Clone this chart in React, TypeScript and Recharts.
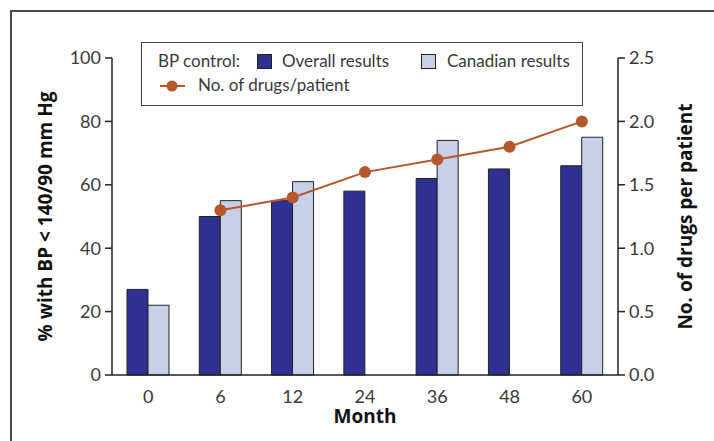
import {
  Bar,
  ComposedChart,
  Legend,
  Line,
  XAxis,
  YAxis,
} from 'recharts';

const MONTHS = ['0', '6', '12', '24', '36', '48', '60'];
const OVERALL = [27, 50, 55, 58, 62, 65, 66];
const CANADIAN = [22, 55, 61, null, 74, null, 75];
const DRUGS = [null, 1.3, 1.4, 1.6, 1.7, 1.8, 2.0];

const LEFT_TICKS = [0, 20, 40, 60, 80, 100];
const RIGHT_TICKS = [0, 0.5, 1.0, 1.5, 2.0, 2.5];

const DARK = '#2e3192';
const LIGHT = '#c8d0e8';
const BROWN = '#b5582b';
const TEXT = '#3a3a3a';

const data = MONTHS.map((month, i) => ({
  month,
  overall: OVERALL[i],
  canadian: CANADIAN[i],
  drugs: DRUGS[i],
}));

const tickStyle = { fill: TEXT, fontSize: 18, fontFamily: 'Lato' };
const titleStyle = {
  fill: '#111',
  fontSize: 19,
  fontWeight: 700,
  fontFamily: 'Open Sans',
};

function LegendBox() {
  const txt = (left: number, top: number, s: string) => (
    <span
      style={{
        position: 'absolute',
        left,
        top,
        lineHeight: '20px',
        whiteSpace: 'nowrap',
      }}
    >
      {s}
    </span>
  );
  const square = (left: number, fill: string) => (
    <span
      style={{
        position: 'absolute',
        left,
        top: 11,
        width: 15,
        height: 15,
        boxSizing: 'border-box',
        background: fill,
        border: '1.5px solid #222',
      }}
    />
  );
  return (
    <div
      style={{
        position: 'relative',
        width: 442,
        height: 64,
        boxSizing: 'border-box',
        border: '1.5px solid #444',
        background: '#fff',
        fontFamily: 'Lato',
        fontSize: 17,
        color: TEXT,
      }}
    >
      {txt(16, 8, 'BP control:')}
      {square(115, DARK)}
      {txt(140, 8, 'Overall results')}
      {square(279, LIGHT)}
      {txt(305, 8, 'Canadian results')}
      <svg
        style={{ position: 'absolute', left: 17, top: 33 }}
        width={28}
        height={20}
      >
        <line x1={1} y1={10} x2={26} y2={10} stroke={BROWN} strokeWidth={2} />
        <circle cx={13} cy={10} r={5.5} fill={BROWN} />
      </svg>
      {txt(56, 32, 'No. of drugs/patient')}
    </div>
  );
}

export default function App() {
  return (
    <div
      style={{
        position: 'relative',
        width: 714,
        height: 441,
        background: '#fff',
        overflow: 'hidden',
      }}
    >
      <style>{'body{margin:0}'}</style>
      <div
        style={{
          position: 'absolute',
          left: 10,
          top: 10,
          right: -4,
          bottom: -4,
          borderTop: '2px solid #4a4a4a',
          borderLeft: '2px solid #4a4a4a',
        }}
      />
      <ComposedChart
        width={714}
        height={441}
        data={data}
        margin={{ top: 58, right: 36, bottom: 36, left: 52 }}
        barGap={0}
      >
        <XAxis
          dataKey="month"
          tick={tickStyle}
          tickLine={false}
          tickMargin={9}
          height={30}
          axisLine={{ stroke: '#222', strokeWidth: 1.5 }}
          label={{
            value: 'Month',
            position: 'bottom',
            offset: 5,
            style: titleStyle,
          }}
        />
        <YAxis
          yAxisId="left"
          domain={[0, 100]}
          ticks={LEFT_TICKS}
          width={60}
          tick={tickStyle}
          tickSize={7}
          tickMargin={4}
          tickLine={{ stroke: '#222', strokeWidth: 1.5 }}
          axisLine={{ stroke: '#222', strokeWidth: 1.5 }}
          label={{
            value: '% with BP < 140/90 mm Hg',
            angle: -90,
            position: 'left',
            offset: 7,
            textAnchor: 'middle',
            style: titleStyle,
          }}
        />
        <YAxis
          yAxisId="right"
          orientation="right"
          domain={[0, 2.5]}
          ticks={RIGHT_TICKS}
          width={60}
          tick={tickStyle}
          tickSize={7}
          tickMargin={4}
          tickLine={{ stroke: '#222', strokeWidth: 1.5 }}
          axisLine={{ stroke: '#222', strokeWidth: 1.5 }}
          tickFormatter={(v: number) => v.toFixed(1)}
          label={{
            value: 'No. of drugs per patient',
            angle: -90,
            position: 'right',
            offset: 7,
            textAnchor: 'middle',
            style: titleStyle,
          }}
        />
        <Legend
          layout="vertical"
          align="center"
          verticalAlign="middle"
          wrapperStyle={{ top: 42, left: 141, width: 442, height: 64 }}
          content={() => <LegendBox />}
        />
        <Bar
          yAxisId="left"
          dataKey="overall"
          barSize={21}
          fill={DARK}
          stroke="#222"
          strokeWidth={1}
          isAnimationActive={false}
        />
        <Bar
          yAxisId="left"
          dataKey="canadian"
          barSize={21}
          fill={LIGHT}
          stroke="#222"
          strokeWidth={1}
          isAnimationActive={false}
        />
        <Line
          yAxisId="right"
          dataKey="drugs"
          stroke={BROWN}
          strokeWidth={2}
          dot={{ r: 6, fill: BROWN, stroke: BROWN, strokeWidth: 0 }}
          isAnimationActive={false}
        />
      </ComposedChart>
    </div>
  );
}
